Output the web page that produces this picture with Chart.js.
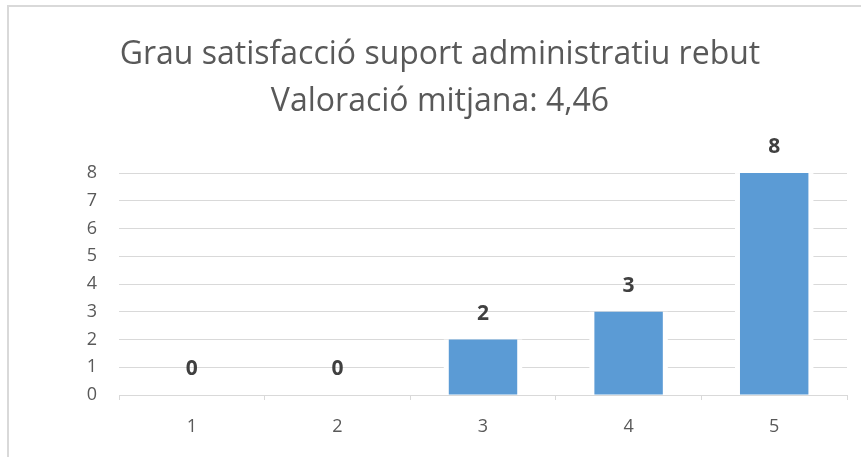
<!DOCTYPE html>
<html>
<head>
<meta charset="utf-8">
<script src="https://cdn.jsdelivr.net/npm/chart.js@4.4.1/dist/chart.umd.min.js"></script>
<style>
  body { margin: 0; background: #fff; overflow: hidden; }
  #frame {
    position: absolute; left: 7px; top: 5px; width: 900px; height: 500px;
    border-left: 2px solid #d9d9d9; border-top: 2px solid #d9d9d9;
  }
  #wrap { position: absolute; left: 0; top: 0; width: 880px; height: 457px; }
</style>
</head>
<body>
<div id="frame"></div>
<div id="wrap"><canvas id="chart"></canvas></div>
<script>
// -----------------------------
// DATA
// -----------------------------
const titleLines = ["Grau satisfacció suport administratiu rebut", "Valoració mitjana: 4,46"];
const categories = ["1", "2", "3", "4", "5"];
const counts = [0, 0, 2, 3, 8];
const yTicks = [0, 1, 2, 3, 4, 5, 6, 7, 8];

const FONT = "'Open Sans', 'Liberation Sans', sans-serif";
const GREY = "#d9d9d9";

// value labels above each bar + gaps in the gridlines beside the bars
const barLabels = {
    id: "barLabels",
    beforeDatasetsDraw(chart) {
        const ctx = chart.ctx;
        const meta = chart.getDatasetMeta(0);
        ctx.save();
        ctx.fillStyle = "#fff";
        meta.data.forEach((bar, i) => {
            if (counts[i] <= 0) return;
            const w = bar.width;
            ctx.fillRect(bar.x - w / 2 - 5, bar.y, w + 10, bar.base - bar.y - 1);
        });
        ctx.restore();
    },
    afterDatasetsDraw(chart) {
        const ctx = chart.ctx;
        const meta = chart.getDatasetMeta(0);
        ctx.save();
        ctx.font = "bold 21px " + FONT;
        ctx.fillStyle = "#404040";
        ctx.textAlign = "center";
        ctx.textBaseline = "middle";
        meta.data.forEach((bar, i) => {
            ctx.fillText(String(counts[i]), bar.x, bar.y - 26);
        });
        ctx.restore();
    }
};

window.onload = function () {
    const ctx = document.getElementById("chart").getContext("2d");

    new Chart(ctx, {
        type: "bar",
        data: {
            labels: categories,
            datasets: [{
                data: counts,
                backgroundColor: "#5b9bd5",
                barPercentage: 0.47,
                categoryPercentage: 1
            }]
        },
        options: {
            responsive: true,
            maintainAspectRatio: false,
            animation: false,
            layout: { padding: { left: 33, right: 33, top: 0, bottom: 0 } },
            plugins: {
                legend: { display: false },
                tooltip: { enabled: false },
                title: {
                    display: true,
                    text: titleLines,
                    color: "#595959",
                    font: { family: FONT, size: 32, weight: "normal", lineHeight: 1.47 },
                    padding: { top: 31, bottom: 48 }
                }
            },
            scales: {
                x: {
                    grid: { offset: true, drawOnChartArea: false, color: GREY, tickLength: 5 },
                    border: { color: GREY, width: 1 },
                    ticks: { color: "#595959", font: { family: FONT, size: 18 }, padding: 16 },
                    afterFit(scale) { scale.height = 62; }
                },
                y: {
                    min: 0,
                    max: 8,
                    afterBuildTicks(scale) { scale.ticks = yTicks.map(v => ({ value: v })); },
                    grid: { color: GREY, drawTicks: false, lineWidth: 1 },
                    border: { display: false },
                    ticks: { color: "#595959", font: { family: FONT, size: 18 }, padding: 22 },
                    afterFit(scale) { scale.width = 86; }
                }
            }
        },
        plugins: [barLabels]
    });
};
</script>
</body>
</html>
